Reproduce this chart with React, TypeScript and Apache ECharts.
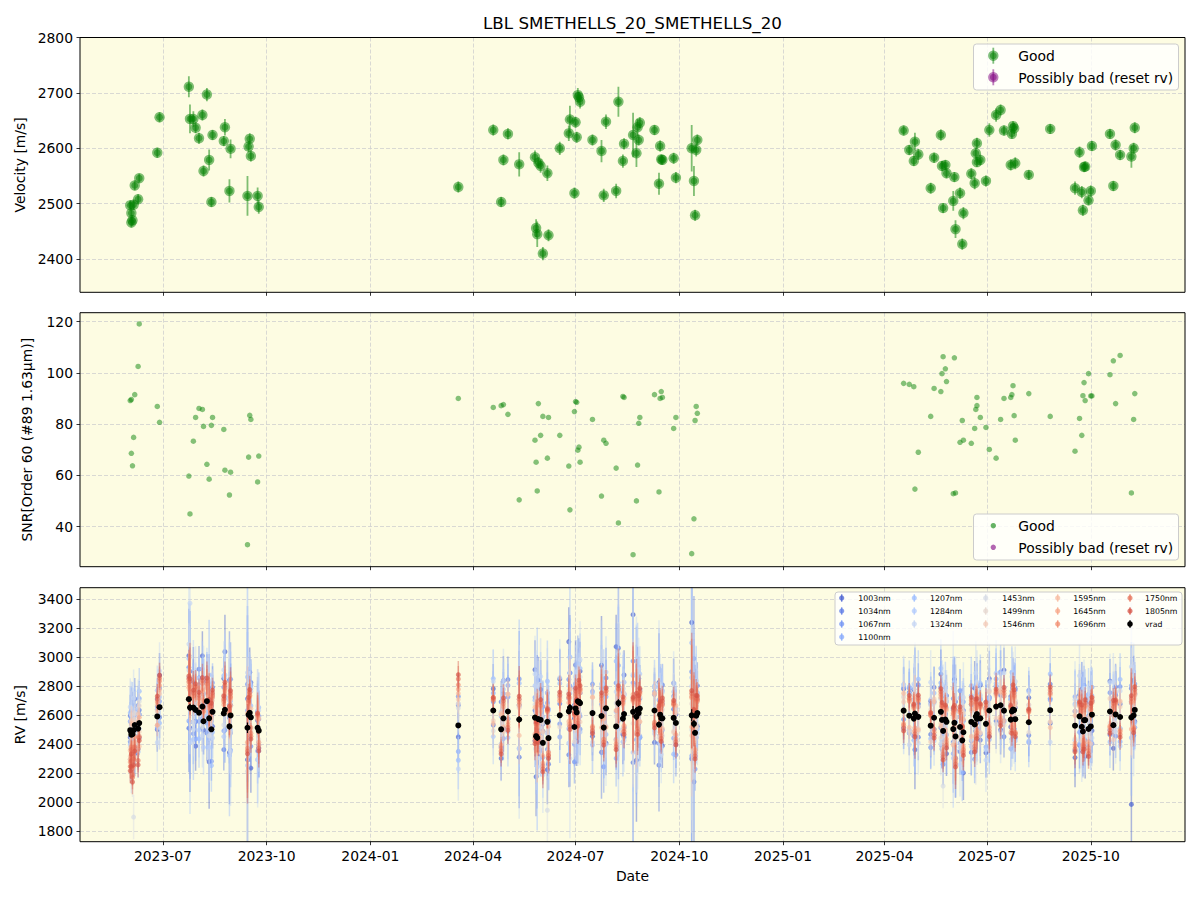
import React, { useEffect, useRef } from 'react';
import * as echarts from 'echarts';

const FONT = 'DejaVu Sans, Liberation Sans, sans-serif';

// ---------- observation dates ----------
const dates: string[] = [
  '2023-06-02','2023-06-03','2023-06-03','2023-06-04','2023-06-05','2023-06-06','2023-06-09','2023-06-10','2023-06-26','2023-06-28',
  '2023-07-24','2023-07-25','2023-07-28','2023-07-30','2023-08-02','2023-08-05','2023-08-06','2023-08-09','2023-08-11','2023-08-13',
  '2023-08-14','2023-08-24','2023-08-25','2023-08-29','2023-08-30','2023-09-14','2023-09-15','2023-09-16','2023-09-17','2023-09-23',
  '2023-09-24','2024-03-19','2024-04-19','2024-04-26','2024-04-28','2024-05-02','2024-05-12','2024-05-26','2024-05-27','2024-05-28',
  '2024-05-29','2024-05-31','2024-06-02','2024-06-06','2024-06-07','2024-06-17','2024-06-25','2024-06-26','2024-06-30','2024-07-01',
  '2024-07-02','2024-07-03','2024-07-04','2024-07-05','2024-07-16','2024-07-24','2024-07-26','2024-07-28','2024-08-06','2024-08-08',
  '2024-08-12','2024-08-13','2024-08-21','2024-08-24','2024-08-25','2024-08-26','2024-08-27','2024-09-09','2024-09-13','2024-09-14',
  '2024-09-15','2024-09-16','2024-09-26','2024-09-28','2024-10-12','2024-10-14','2024-10-15','2024-10-16','2024-10-17','2025-04-18',
  '2025-04-23','2025-04-27','2025-04-28','2025-05-01','2025-05-12','2025-05-15','2025-05-21','2025-05-22','2025-05-23','2025-05-25',
  '2025-05-26','2025-06-01','2025-06-02','2025-06-03','2025-06-07','2025-06-09','2025-06-10','2025-06-17','2025-06-20','2025-06-21',
  '2025-06-22','2025-06-22','2025-06-25','2025-06-30','2025-07-03','2025-07-09','2025-07-13','2025-07-16','2025-07-22','2025-07-23',
  '2025-07-24','2025-07-25','2025-07-26','2025-08-07','2025-08-26','2025-09-17','2025-09-21','2025-09-23','2025-09-24','2025-09-25',
  '2025-09-26','2025-09-29','2025-10-01','2025-10-02','2025-10-18','2025-10-21','2025-10-23','2025-10-27','2025-11-06','2025-11-08',
  '2025-11-09',
];

// ---------- top panel: velocity [m/s] and its error ----------
const velocity: number[] = [
  2497, 2466, 2483, 2470, 2498, 2533, 2508, 2546, 2592, 2656,
  2711, 2653, 2653, 2637, 2618, 2660, 2559, 2697, 2579, 2503,
  2624, 2613, 2638, 2523, 2599, 2514, 2603, 2617, 2586, 2514,
  2494, 2530, 2633, 2503, 2579, 2626, 2571, 2584, 2456, 2445,
  2574, 2568, 2410, 2555, 2443, 2600, 2627, 2652, 2519, 2647,
  2620, 2696, 2692, 2684, 2615, 2595, 2515, 2648, 2523, 2684,
  2577, 2608, 2624, 2591, 2638, 2615, 2646, 2633, 2536, 2604,
  2580, 2579, 2582, 2547, 2600, 2541, 2479, 2597, 2615, 2632,
  2597, 2577, 2612, 2589, 2528, 2583, 2624, 2568, 2492, 2570,
  2555, 2505, 2548, 2454, 2519, 2427, 2483, 2554, 2537, 2591,
  2575, 2609, 2579, 2541, 2633, 2660, 2669, 2632, 2570, 2626,
  2640, 2636, 2573, 2552, 2635, 2528, 2593, 2521, 2488, 2566,
  2567, 2506, 2523, 2604, 2626, 2532, 2606, 2588, 2585, 2600, 2637,
];
const velocityErr: number[] = [
  9, 9, 10, 9, 9, 9, 9, 8, 9, 9,
  19, 26, 14, 10, 10, 10, 10, 12, 19, 9,
  9, 9, 15, 21, 17, 36, 10, 10, 10, 15,
  12, 10, 10, 9, 10, 10, 22, 12, 16, 23,
  10, 12, 12, 14, 11, 12, 14, 25, 10, 10,
  10, 13, 10, 12, 10, 20, 12, 13, 13, 27,
  12, 10, 40, 25, 15, 10, 10, 9, 20, 10,
  9, 9, 10, 10, 42, 27, 10, 12, 10, 9,
  9, 9, 16, 10, 10, 9, 10, 9, 9, 9,
  9, 18, 9, 16, 10, 10, 11, 10, 11, 10,
  9, 10, 10, 10, 12, 12, 10, 9, 10, 9,
  9, 10, 11, 9, 9, 12, 10, 11, 10, 9,
  9, 9, 10, 9, 9, 9, 10, 9, 20, 10, 10,
];

// ---------- middle panel: SNR ----------
const snr: number[] = [
  89.2, 89.6, 68.6, 63.7, 74.8, 91.5, 102.5, 119.1, 86.9, 80.7,
  59.7, 44.9, 73.3, 82.6, 86.1, 85.7, 79.1, 64.3, 58.5, 79.5,
  82.6, 77.9, 62.0, 52.3, 61.2, 32.9, 67.1, 83.4, 81.8, 57.4,
  67.5, 90.0, 86.5, 87.2, 87.6, 83.8, 50.4, 73.7, 65.1, 53.9,
  88.0, 75.6, 83.0, 66.7, 82.6, 75.6, 63.6, 46.5, 84.9, 88.8,
  88.5, 69.8, 71.0, 65.1, 81.8, 51.9, 73.7, 72.5, 62.8, 41.4,
  90.8, 90.4, 29.0, 50.0, 64.0, 80.3, 82.6, 91.5, 53.5, 90.0,
  92.7, 90.4, 78.3, 82.6, 29.4, 43.0, 81.4, 86.9, 84.2, 95.9,
  95.5, 94.6, 54.6, 69.0, 83.0, 93.9, 92.7, 99.7, 106.3, 101.6,
  96.6, 52.8, 105.9, 53.1, 72.9, 81.4, 73.7, 72.5, 78.3, 85.7,
  90.4, 87.2, 82.6, 78.7, 70.1, 66.7, 81.8, 90.0, 90.4, 91.5,
  95.0, 83.3, 73.7, 91.9, 83.0, 69.4, 82.2, 75.6, 91.1, 96.2,
  89.2, 99.7, 91.0, 91.0, 99.3, 104.7, 88.0, 106.8, 53.1, 81.8, 91.9,
];

// ---------- axes ----------
const quarterTicks = ['2023-07-01','2023-10-01','2024-01-01','2024-04-01','2024-07-01','2024-10-01','2025-01-01','2025-04-01','2025-07-01','2025-10-01'];
const velTicks = [2400, 2500, 2600, 2700, 2800];
const velRange = [2340, 2800];
const snrTicks = [40, 60, 80, 100, 120];
const snrRange = [24.3, 123.5];
const rvTicks = [1800, 2000, 2200, 2400, 2600, 2800, 3000, 3200, 3400];
const rvRange = [1728, 3480];

// ---------- bottom panel: per-wavelength RV (offset from vrad, units of 10 m/s) ----------
const wavelengths = ['1003nm','1034nm','1067nm','1100nm','1207nm','1284nm','1324nm','1453nm','1499nm','1546nm','1595nm','1645nm','1696nm','1750nm','1805nm'];
const wlColors: number[][] = [
  [73,98,210],[93,124,230],[114,148,244],[135,170,252],[156,189,255],[177,203,252],[197,214,243],
  [214,219,228],[230,215,207],[241,203,184],[247,187,160],[247,166,135],[241,142,112],[230,114,90],[214,82,68],
];
const wlErr = [170, 160, 150, 150, 200, 190, 220, 170, 110, 100, 90, 85, 85, 90, 95];

const off1003 = [
  -5, 8, -12, 14, 3, -20, 10, 6, -9, 22,
  30, -14, 18, -25, 9, 35, -6, 12, -30, 16,
  -10, 24, 40, -18, 7, -22, 13, 28, -35, 5,
  -12, -8, 15, -20, 26, -5, 10, 33, -28, 18,
  -15, 21, 8, -33, 12, 25, 48, -12, 6, 30,
  -20, 14, -8, 22, -16, 35, 10, -24, 55, 9,
  -11, 27, 67, -30, 18, -7, 13, -22, 29, -14,
  8, -19, 24, 6, 64, -40, 30, 12, -9, 15,
  -12, 20, -25, 9, 17, -8, 26, -18, 11, 4,
  -22, 14, 30, -15, 7, 19, -28, 12, 25, -10,
  16, -6, 23, -20, 9, 14, -17, 28, -5, 11,
  20, -13, 8, 17, -9, -22, 15, 26, -14, 10,
  -25, 18, 7, -11, 21, -16, 13, 9, -60, 24, -8,
];
const off1034 = [
  10, -6, 15, -11, 4, 18, -14, 9, 12, -7,
  -20, 25, 11, -8, 30, -15, 19, -22, 14, 6,
  17, -25, 9, 32, -12, 20, -6, -18, 24, 11,
  8, 14, -10, 19, -7, 22, -26, 5, 16, -12,
  27, -9, 13, 20, -18, 8, -30, 24, 15, -11,
  19, -22, 28, 7, -13, -25, 16, 21, -9, 38,
  12, -16, -35, 22, 9, 15, -20, 11, -28, 17,
  -10, 23, 6, -15, -30, 45, 10, -7, 19, -12,
  16, 9, 20, -14, -6, 21, -11, 15, -23, 8,
  18, -9, 12, 24, -17, 6, 15, -21, 10, 13,
  -8, 19, -15, 11, 22, -10, 7, -18, 16, 5,
  -12, 14, 21, -9, 18, 10, -20, 13, 25, -7,
  15, -11, 22, 9, -16, 12, 19, -8, 20, -14, 11,
];
const off1067 = [
  -8, 12, 5, -15, 9, -4, 16, -10, 7, 13,
  22, -10, -18, 14, -6, 20, 28, -15, 8, -22,
  12, 18, -14, 6, 25, 30, -9, 15, -20, 10,
  -14, 20, 6, -12, 17, 10, 28, -16, 9, 21,
  -8, 14, 25, -19, 11, -6, 22, 15, -24, 9,
  13, 26, -10, -18, 20, 8, -27, 14, 30, -12,
  18, -9, 35, 12, -21, 24, 7, 16, -13, 20,
  -17, 10, 15, -22, 30, 18, -25, 9, 14, -6,
  19, -12, 8, 22, -15, 11, 17, -20, 6, 14,
  -9, 21, -16, 10, 25, -13, 8, 18, -24, 7,
  12, 20, -11, 15, -18, 9, 23, -7, 14, -19,
  10, 16, -13, 22, 8, -17, 11, 19, -10, 24,
  -14, 9, 17, -20, 13, 7, -15, 21, 10, -9, 18,
];
const off1100 = [
  6, -10, 14, 2, -12, 11, -5, 17, -8, 4,
  -15, 18, 10, -20, 24, -8, 12, 16, -14, 9,
  20, -12, 8, 15, -24, 12, 18, -10, 22, -16,
  10, -18, 12, 9, -14, 18, -20, 14, -9, 11,
  16, -21, -10, 13, 20, -15, 9, 24, -12, 17,
  -14, 10, 22, -9, 15, 19, -17, 8, -22, 26,
  -10, 14, 20, -16, 11, 8, -19, 13, 17, -12,
  21, -8, -14, 10, -28, 22, 12, -15, 9, 16,
  -10, 13, -18, 7, 15, -12, 20, 9, -14, 11,
  14, -17, 9, 18, -11, 6, 21, -13, 12, -8,
  17, -10, 13, -16, 8, 19, -12, 10, -20, 14,
  -9, 18, 11, -14, 7, 20, -11, 15, 9, -18,
  12, 16, -10, 19, -13, 8, 14, -17, 22, 10, -12,
];
const off1207 = [
  12, -14, 8, 18, -6, 10, -16, 22, 5, -11,
  28, 20, -22, 12, -18, 15, 24, -10, 30, -25,
  -14, 26, 15, -20, 10, 35, -12, 20, 8, -22,
  16, -24, 22, -10, 14, -18, 25, 12, -8, 30,
  -20, 10, 18, 28, -14, 22, -12, 35, 9, -16,
  20, -10, 15, 24, -22, 12, 30, -18, 45, 14,
  -16, 22, 25, -12, 30, 10, -20, 17, 26, -14,
  12, 19, -25, 8, 50, -20, 15, 24, -11, 18,
  20, -15, 12, 26, -9, 17, 30, -14, 10, 22,
  -18, 14, 28, -10, 20, -22, 12, 25, -15, 9,
  18, -12, 24, 10, -20, 16, 22, -8, 14, 27,
  -16, 11, 20, -13, 25, 15, -19, 9, 22, -12,
  17, 24, -10, 13, -21, 19, 8, 26, -14, 30, 11,
];
const off1284 = [
  -10, 6, 16, -8, 12, -15, 9, -4, 18, 7,
  15, -24, 20, 9, -12, 26, -18, 14, -20, 22,
  10, -16, 24, 18, -10, -26, 14, -8, 20, 12,
  -10, 15, -18, 12, 20, -14, 9, 22, 16, -20,
  11, 24, -15, -8, 19, 13, -22, 10, 27, -12,
  -15, 18, 9, -20, 14, 22, -12, 25, 10, -18,
  21, 13, -28, 16, -10, 19, 24, -14, 9, 15,
  -20, 12, 18, -9, 26, 14, -16, 20, 11, -13,
  15, 21, -10, 13, 18, -16, 9, 24, -12, 17,
  10, -20, 16, 12, -14, 22, 8, -17, 19, 13,
  -11, 20, 14, -18, 9, 23, -13, 16, 11, -21,
  18, 9, -15, 21, 12, -10, 17, 24, -13, 8,
  -19, 14, 22, 10, -12, 18, 15, -20, 11, 16, -9,
];
const off1324 = [
  16, -12, -20, 10, 22, -8, 14, 6, -18, 25,
  38, 72, -15, 22, 18, -20, 30, -12, 26, 15,
  -18, 30, 22, 14, -25, 38, -10, 20, 18, -22,
  14, -30, 20, -16, 26, 12, -20, 30, 24, -14,
  18, 30, -22, 20, -12, 26, 18, -35, 14, 22,
  28, -16, 12, 30, -20, 22, 16, -25, 24, 34,
  20, -18, 26, 14, -22, 30, 12, -16, 28, 20,
  -25, 18, 24, -12, 20, -30, 16, 22, -14, 18,
  -20, 24, 14, -18, 30, 10, -22, 18, 26, -12,
  16, 28, -14, 20, -26, 12, 24, 18, -16, 30,
  -12, 22, 16, -25, 20, 14, -18, 26, 10, 24,
  20, -15, 26, 12, -22, 18, 28, -14, 16, 22,
  -18, 12, 24, -16, 20, 30, -12, 18, 35, -20, 14,
];
const off1453 = [
  -20, 5, 12, -28, -60, 8, -10, 15, -6, -14,
  20, 12, -10, 16, 8, -14, 18, 10, -12, 6,
  14, -8, 10, 18, -12, -30, 8, 12, -10, 15,
  -8, 12, -14, 10, 6, -12, 14, 9, -10, 16,
  8, -12, 14, -61, -9, 16, 12, 12, 8, -14,
  10, 14, -8, 18, -10, 12, 6, -12, 16, 10,
  -8, 14, 18, -10, 12, -14, 8, 16, -9, 12,
  10, -12, 14, 8, -10, 16, 12, -8, 14, 10,
  -12, 16, 8, -10, 14, 12, -18, 10, -38, 8,
  14, -10, 12, 16, -8, 10, 14, -12, 8, -30,
  12, 16, -10, 8, 14, -12, 10, 16, -9, 12,
  8, -14, 12, 10, -8, 14, 16, -10, 12, 8,
  -10, 14, 8, 12, -12, 10, 16, -8, 14, 20, 10,
];
const off1499 = [
  -12, 6, -15, 9, -20, 4, -8, 12, 3, 10,
  12, 15, 6, 10, 8, 14, 9, 11, 16, 7,
  10, 13, 8, 12, 6, 9, -10, 11, -8, 7,
  -6, 15, 8, -10, 12, -5, 10, -14, 9, 6,
  -9, 12, 7, -12, 10, -8, 14, 6, -10, 9,
  11, -7, 13, 8, -12, 10, -9, 12, 7, -11,
  9, 14, -8, 10, -6, 12, 8, -10, 11, -7,
  13, 6, -9, 10, 8, -12, 11, 7, -8, 9,
  -10, 12, 6, -8, 11, -13, 9, -7, 10, 14,
  -9, 8, 12, -11, 7, -10, 13, 9, -8, 11,
  10, -12, 8, 14, -9, 7, 12, -10, 9, 6,
  -8, 11, 13, -7, 10, -9, 8, 12, -11, 9,
  7, -10, 12, 9, -8, 11, -6, 10, 13, -9, 8,
];
const off1546 = [
  -18, -10, 8, -14, 5, -22, 10, -6, 4, 9,
  14, 8, 12, 16, 9, 11, 15, 6, 13, 10,
  8, 12, 14, 9, 11, -12, 7, 13, -9, 10,
  9, 18, -7, 11, -9, 12, 8, -11, 13, -8,
  10, -12, 8, 11, -10, 14, -9, 7, 12, -6,
  -8, 12, 9, -13, 11, 7, -10, 14, -9, 10,
  12, -8, 10, -11, 13, 7, -9, 11, 8, -12,
  9, 12, -10, 7, -14, 10, 13, -8, 11, 6,
  12, -9, 10, 7, -11, 13, -8, 9, -12, 10,
  8, 11, -9, 13, -7, 10, -12, 8, 11, -6,
  9, 12, -10, 7, 13, -8, 10, 11, -9, 12,
  7, -11, 9, 12, -8, 10, 13, -9, 11, -7,
  10, 8, -12, 11, 9, -10, 12, 7, -8, 10, 13,
];
const off1595 = [
  -14, -18, 6, -22, -9, -12, 5, -16, 8, 12,
  10, 14, 7, 12, 9, 13, 6, 11, 15, 8,
  12, 9, 11, 14, 7, 10, -8, 12, 6, 9,
  8, 22, -9, 10, -6, 12, -11, 7, 9, -10,
  11, 6, -9, -12, 8, 10, -7, 13, 9, -8,
  12, 7, -10, 9, 11, -8, 6, 12, -10, 8,
  -9, 11, 7, -12, 10, 8, -9, 12, 6, -10,
  11, -7, 9, 12, -8, 10, -11, 7, 9, 12,
  -8, 10, 12, -9, 7, 11, -10, 8, 12, -7,
  9, -11, 10, 7, 12, -8, 9, -10, 11, 8,
  -9, 12, 7, 10, -11, 8, 9, -7, 12, 10,
  -10, 8, 11, 9, -12, 7, 10, 12, -8, 9,
  11, -9, 8, 12, -10, 7, 9, 11, -8, 12, 10,
];
const off1645 = [
  -20, -12, -16, -10, -25, -8, -14, 4, -6, 15,
  8, 12, 10, 15, 6, 11, 14, 9, 7, 12,
  10, 6, 13, 9, 12, -10, 8, 11, -7, 6,
  -8, 25, 9, -11, 8, -7, 10, -12, 11, 7,
  -10, 9, -14, 8, -12, 10, 6, -9, 11, 8,
  9, -11, 12, 7, -9, 10, 8, -13, 11, 6,
  10, -8, 12, 9, -11, 7, 10, -9, 12, 8,
  -10, 9, 11, -8, 12, 7, -12, 10, 8, -9,
  11, 7, -10, 12, 9, -8, 10, 11, -14, 7,
  -12, 10, 8, -15, 11, 9, -10, 12, -13, 7,
  8, -11, 10, 9, -12, 11, -8, 10, 7, -9,
  12, 9, -10, 8, 11, -12, 7, 10, -9, -14,
  9, -13, 11, 8, -10, 12, 7, -9, 10, -8, 11,
];
const off1696 = [
  -22, -15, -10, -28, -12, -18, -6, -9, 10, 18,
  12, 15, 8, 14, 10, 16, 7, 12, 9, 14,
  11, 8, 15, 10, 13, -14, 9, 12, -11, 8,
  -10, 28, 7, -13, 10, -9, 12, -14, 8, 9,
  -12, 10, -16, 7, -10, 12, 9, -11, 8, 10,
  7, -13, 11, 9, -10, 12, -8, 10, -12, 9,
  11, -10, 8, 12, -13, 9, 11, -8, 10, 7,
  -12, 10, 9, -11, 13, 8, -14, 11, 9, -10,
  10, 8, -12, 11, 7, -10, 12, 9, -16, 8,
  -14, 11, 9, -17, 10, 8, -12, 13, -15, 9,
  10, -13, 8, 11, -14, 9, -10, 12, 8, -11,
  13, 10, -9, 7, 12, -14, 8, 11, -10, -16,
  10, -15, 12, 9, -11, 13, 8, -10, 11, -9, 12,
];
const off1750 = [
  -25, -18, -12, -30, -20, -15, -22, -10, 12, 20,
  14, 18, 10, 16, 12, 18, 9, 14, 11, 16,
  13, 10, 17, 12, 15, -16, 10, 14, -13, 9,
  -12, 32, 8, -15, 12, -11, 14, -16, 9, 10,
  -14, 12, -18, 8, -12, 14, 10, -13, 9, 12,
  8, -15, 13, 10, -12, 14, -10, 12, -14, 10,
  13, -12, 9, 14, -15, 10, 12, -10, 11, 8,
  -14, 12, 10, -13, 15, 9, -16, 12, 10, -12,
  12, 9, -14, 13, 8, -12, 14, 10, -18, 9,
  -16, 13, 10, -19, 12, 9, -14, 15, -17, 10,
  12, -15, 9, 13, -16, 10, -12, 14, 9, -13,
  15, 12, -10, 8, 14, -16, 9, 13, -12, -18,
  12, -17, 14, 10, -13, 15, 9, -12, 13, -10, 14,
];
const off1805 = [
  -28, -22, -15, -33, -24, -18, -25, -12, 14, 22,
  16, 20, 12, 18, 14, 20, 10, 16, 13, 18,
  15, 12, 19, 14, 17, -18, 12, 16, -15, 10,
  -14, 35, 9, -17, 14, -13, 16, -18, 10, 12,
  -16, 14, -20, 9, -14, 16, 12, -15, 10, 14,
  9, -17, 15, 12, -14, 16, -12, 14, -16, 12,
  15, -14, 10, 16, -17, 12, 14, -12, 13, 9,
  -16, 14, 12, -15, 17, 10, -18, 14, 12, -14,
  14, 10, -16, 15, 9, -14, 16, 12, -20, 10,
  -18, 15, 12, -21, 14, 10, -16, 17, -19, 12,
  14, -17, 10, 15, -18, 12, -14, 16, 10, -15,
  17, 14, -12, 9, 16, -18, 10, 15, -14, -20,
  14, -19, 16, 12, -15, 17, 10, -14, 15, -12, 16,
];
const rvOffsets = [off1003, off1034, off1067, off1100, off1207, off1284, off1324, off1453, off1499, off1546, off1595, off1645, off1696, off1750, off1805];

// ---------- helpers ----------
const toTs = (s: string) => {
  const [y, m, d] = s.split('-').map(Number);
  return Date.UTC(y, m - 1, d);
};
const fmtMonth = (v: number) => {
  const d = new Date(v);
  return d.getUTCFullYear() + '-' + String(d.getUTCMonth() + 1).padStart(2, '0');
};
const rgba = (c: number[], a: number) => `rgba(${c[0]},${c[1]},${c[2]},${a})`;

const GREEN = [0, 128, 0];
const PURPLE = [128, 0, 128];

function errRender(stroke: string, fill: string, r: number, lw: number, inner?: { r: number; fill: string }) {
  return (_params: any, api: any) => {
    const x = api.value(0);
    const y = api.value(1);
    const e = api.value(2);
    const c = api.coord([x, y]);
    const hi = api.coord([x, y + e]);
    const lo = api.coord([x, y - e]);
    const children: any[] = [
      { type: 'line', shape: { x1: c[0], y1: hi[1], x2: c[0], y2: lo[1] }, style: { stroke, lineWidth: lw } },
      { type: 'circle', shape: { cx: c[0], cy: c[1], r }, style: { fill } },
    ];
    if (inner) children.push({ type: 'circle', shape: { cx: c[0], cy: c[1], r: inner.r }, style: { fill: inner.fill } });
    return { type: 'group', children };
  };
}

function legendMarker(cx: number, cy: number, color: string, r: number, half: number, lw: number, inner?: { r: number; fill: string }) {
  const els: any[] = [];
  if (half > 0) els.push({ type: 'line', shape: { x1: cx, y1: cy - half, x2: cx, y2: cy + half }, style: { stroke: color, lineWidth: lw }, z: 101 });
  els.push({ type: 'circle', shape: { cx, cy, r }, style: { fill: color }, z: 101 });
  if (inner) els.push({ type: 'circle', shape: { cx, cy, r: inner.r }, style: { fill: inner.fill }, z: 101 });
  return els;
}
function legendText(x: number, y: number, text: string, size: number) {
  return {
    type: 'text', x, y, z: 101,
    style: { text, fontSize: size, fontFamily: FONT, fill: '#000', align: 'left', verticalAlign: 'middle', textAlign: 'left', textVerticalAlign: 'middle' },
  };
}

function buildOption() {
  const ts = dates.map(toTs);
  const span = ts[ts.length - 1] - ts[0];
  const xMin = ts[0] - 0.05 * span;
  const xMax = ts[ts.length - 1] + 0.05 * span;
  const qTicks = quarterTicks.map(toTs);

  const grids = [
    { top: 37.5, height: 254.8 },
    { top: 312.7, height: 254 },
    { top: 587.7, height: 254 },
  ];
  const BG = '#fdfce2';
  const splitLine = { show: true, lineStyle: { color: '#cfcfcf', type: [4, 2], width: 0.8 } };
  const tickStyle = { show: true, inside: false, length: 3.5, lineStyle: { color: '#000', width: 0.8 } };
  const labelFont = { fontSize: 13.9, fontFamily: FONT, color: '#000' };

  const xAxis = grids.map((_, i) => ({
    type: 'value', gridIndex: i, min: xMin, max: xMax, scale: true,
    axisLine: { show: false },
    axisTick: { ...tickStyle, customValues: qTicks },
    axisLabel: { show: i === 2, customValues: qTicks, formatter: (v: number) => fmtMonth(v), margin: 7, ...labelFont },
    splitLine,
    name: i === 2 ? 'Date' : '',
    nameLocation: 'middle', nameGap: 27,
    nameTextStyle: { ...labelFont },
  }));

  const yDefs = [
    { ticks: velTicks, range: velRange, name: 'Velocity [m/s]', gap: 48 },
    { ticks: snrTicks, range: snrRange, name: 'SNR[Order 60 (#89 1.63μm)]', gap: 46 },
    { ticks: rvTicks, range: rvRange, name: 'RV [m/s]', gap: 49 },
  ];
  const yAxis = yDefs.map((d, i) => ({
    type: 'value', gridIndex: i, min: d.range[0], max: d.range[1],
    axisLine: { show: false },
    axisTick: { ...tickStyle, customValues: d.ticks },
    axisLabel: { customValues: d.ticks, margin: 7, formatter: (v: number) => String(v), ...labelFont },
    splitLine,
    name: d.name, nameLocation: 'middle', nameGap: d.gap,
    nameTextStyle: { ...labelFont },
  }));

  const series: any[] = [];

  // top: velocity with error bars
  series.push({
    type: 'custom', name: 'Good', xAxisIndex: 0, yAxisIndex: 0, clip: true, silent: true,
    encode: { x: 0, y: 1 },
    data: ts.map((t, j) => [t, velocity[j], velocityErr[j]]),
    renderItem: errRender(rgba(GREEN, 0.5), rgba(GREEN, 0.5), 5.2, 1.8, { r: 3.4, fill: rgba(GREEN, 0.5) }),
  });

  // middle: SNR
  series.push({
    type: 'scatter', name: 'Good', xAxisIndex: 1, yAxisIndex: 1, silent: true,
    symbolSize: 5.5, itemStyle: { color: rgba(GREEN, 0.6) },
    data: ts.map((t, j) => [t, snr[j]]),
  });

  // bottom: per-wavelength RVs
  wavelengths.forEach((wl, k) => {
    const offs = rvOffsets[k];
    const data: number[][] = [];
    ts.forEach((t, j) => {
      if (offs[j] === undefined) return;
      data.push([t, velocity[j] + offs[j] * 10, (wlErr[k] * velocityErr[j]) / 10]);
    });
    const red = k >= 8;
    series.push({
      type: 'custom', name: wl, xAxisIndex: 2, yAxisIndex: 2, clip: true, silent: true,
      encode: { x: 0, y: 1 },
      itemStyle: { color: rgba(wlColors[k], 0.7) },
      data,
      renderItem: errRender(rgba(wlColors[k], red ? 0.4 : 0.45), rgba(wlColors[k], red ? 0.65 : 0.7), 2.5, 1.5),
    });
  });
  series.push({
    type: 'custom', name: 'vrad', xAxisIndex: 2, yAxisIndex: 2, clip: true, silent: true,
    encode: { x: 0, y: 1 },
    data: ts.map((t, j) => [t, velocity[j], velocityErr[j]]),
    renderItem: errRender('#000', '#000', 3, 1.2),
  });

  // graphics: title, frames, legends
  const graphic: any[] = [];
  graphic.push({
    type: 'text', x: 632.5, y: 23, z: 101,
    style: { text: 'LBL SMETHELLS_20_SMETHELLS_20', fontSize: 16.7, fontFamily: FONT, fill: '#000', align: 'center', verticalAlign: 'middle', textAlign: 'center', textVerticalAlign: 'middle' },
  });
  grids.forEach((g) => {
    graphic.push({ type: 'rect', z: 100, shape: { x: 80, y: g.top, width: 1105, height: g.height }, style: { fill: 'none', stroke: '#000', lineWidth: 1 } });
  });

  const boxStyle = { fill: 'rgba(255,255,255,0.8)', stroke: '#cccccc', lineWidth: 1 };
  // top legend
  graphic.push({ type: 'rect', z: 100, shape: { x: 973.5, y: 44, width: 205, height: 46, r: 3 }, style: boxStyle });
  graphic.push(...legendMarker(993.3, 55.7, rgba(GREEN, 0.5), 5.2, 8, 1.8, { r: 3.4, fill: rgba(GREEN, 0.5) }));
  graphic.push(legendText(1018.3, 56, 'Good', 13.9));
  graphic.push(...legendMarker(993.3, 77.3, rgba(PURPLE, 0.5), 5.2, 8, 1.8, { r: 3.4, fill: rgba(PURPLE, 0.5) }));
  graphic.push(legendText(1018.3, 77.6, 'Possibly bad (reset rv)', 13.9));
  // middle legend
  graphic.push({ type: 'rect', z: 100, shape: { x: 973.5, y: 514, width: 205, height: 46, r: 3 }, style: boxStyle });
  graphic.push(...legendMarker(993.3, 525.7, rgba(GREEN, 0.6), 2.7, 0, 0));
  graphic.push(legendText(1018.3, 526, 'Good', 13.9));
  graphic.push(...legendMarker(993.3, 547.3, rgba(PURPLE, 0.6), 2.7, 0, 0));
  graphic.push(legendText(1018.3, 547.6, 'Possibly bad (reset rv)', 13.9));
  // bottom legend (5 columns, column-major)
  graphic.push({ type: 'rect', z: 100, shape: { x: 835, y: 592, width: 347, height: 53, r: 3 }, style: boxStyle });
  const colMarkerX = [841.7, 914.3, 985.7, 1057.7, 1130];
  const colTextX = [858.3, 930, 1002.3, 1073.3, 1145];
  const rowY = [598, 611, 624, 637];
  const columns: number[][] = [[0, 1, 2, 3], [4, 5, 6], [7, 8, 9], [10, 11, 12], [13, 14, 15]];
  columns.forEach((col, ci) => {
    col.forEach((k, ri) => {
      const isV = k === 15;
      const color = isV ? '#000' : rgba(wlColors[k], 0.75);
      graphic.push(...legendMarker(colMarkerX[ci], rowY[ri], color, isV ? 2.8 : 2.6, 3.8, 1.4));
      graphic.push(legendText(colTextX[ci], rowY[ri] + 0.5, isV ? 'vrad' : wavelengths[k], 7.8));
    });
  });

  return {
    animation: false,
    backgroundColor: '#ffffff',
    textStyle: { fontFamily: FONT },
    grid: grids.map((g) => ({ left: 80, right: 15, top: g.top, height: g.height, show: true, backgroundColor: BG, borderWidth: 0, containLabel: false })),
    xAxis,
    yAxis,
    series,
    graphic,
  };
}

export default function App() {
  const ref = useRef<HTMLDivElement>(null);
  useEffect(() => {
    if (!ref.current) return;
    const chart = echarts.init(ref.current, undefined, { renderer: 'svg' });
    chart.setOption(buildOption() as any);
    return () => chart.dispose();
  }, []);
  return <div ref={ref} style={{ position: 'absolute', left: 0, top: 0, width: 1200, height: 900, background: '#fff' }} />;
}
